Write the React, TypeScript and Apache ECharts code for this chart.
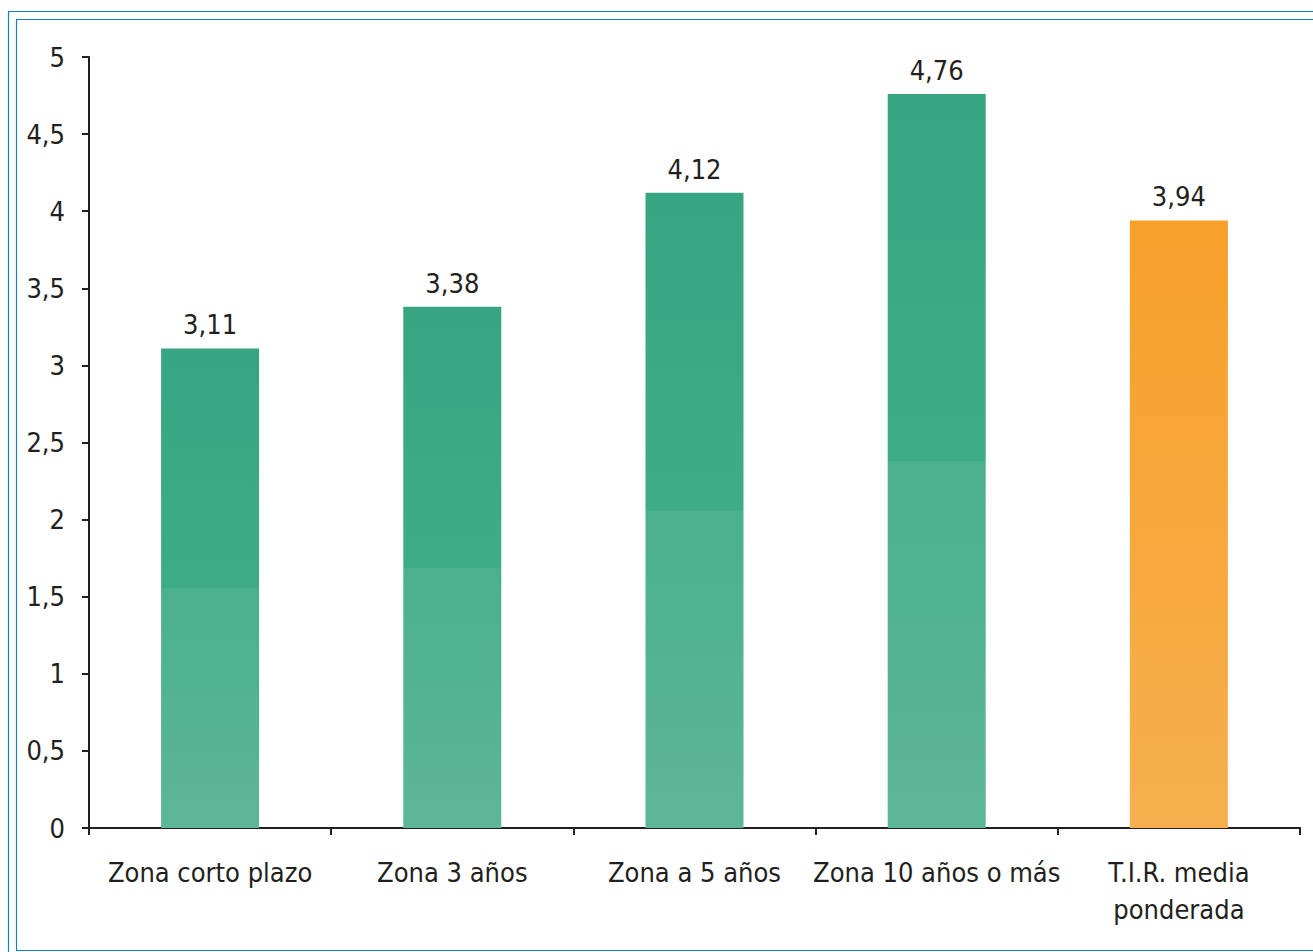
import React, { useEffect, useRef } from "react";
import * as echarts from "echarts";

const categories = ["Zona corto plazo", "Zona 3 años", "Zona a 5 años", "Zona 10 años o más", "T.I.R. media\nponderada"];
const values = [3.11, 3.38, 4.12, 4.76, 3.94];
const highlightIndex = 4;

const FONT = '"Liberation Sans Narrow", "DejaVu Sans Condensed", "Roboto Condensed", sans-serif';
const INK = "#231f20";

const greenGrad = new echarts.graphic.LinearGradient(0, 0, 0, 1, [
  { offset: 0, color: "#37a581" },
  { offset: 0.5, color: "#3fac88" },
  { offset: 0.501, color: "#4ab08d" },
  { offset: 1, color: "#5db698" },
]);
const orangeGrad = new echarts.graphic.LinearGradient(0, 0, 0, 1, [
  { offset: 0, color: "#f7a02a" },
  { offset: 1, color: "#f6b04f" },
]);

export default function App() {
  const ref = useRef<HTMLDivElement>(null);
  useEffect(() => {
    if (!ref.current) return;
    const chart = echarts.init(ref.current, undefined, { renderer: "svg" });
    chart.setOption({
      animation: false,
      backgroundColor: "#ffffff",
      textStyle: { fontFamily: FONT },
      grid: { left: 89, right: 13, top: 57, bottom: 124, containLabel: false },
      graphic: [
        {
          type: "rect",
          shape: { x: 8.5, y: 11.5, width: 1330, height: 960 },
          style: { fill: "none", stroke: "#1a7fc1", lineWidth: 1.2 },
          silent: true,
        },
        {
          type: "rect",
          shape: { x: 16.5, y: 19.5, width: 1320, height: 931 },
          style: { fill: "none", stroke: "#1a7fc1", lineWidth: 1.2 },
          silent: true,
        },
      ],
      xAxis: {
        type: "category",
        data: categories,
        axisLine: { lineStyle: { color: INK, width: 2 } },
        axisTick: { show: true, length: 7, lineStyle: { color: INK, width: 2 } },
        axisLabel: {
          color: INK,
          fontSize: 27,
          fontFamily: FONT,
          margin: 26,
          lineHeight: 37,
          interval: 0,
        },
      },
      yAxis: {
        type: "value",
        min: 0,
        max: 5,
        interval: 0.5,
        splitLine: { show: false },
        axisLine: { show: true, lineStyle: { color: INK, width: 2 } },
        axisTick: { show: true, length: 7, lineStyle: { color: INK, width: 2 } },
        axisLabel: {
          color: INK,
          fontSize: 27,
          fontFamily: FONT,
          margin: 24,
          formatter: (v: number) => String(v).replace(".", ","),
        },
      },
      series: [
        {
          type: "bar",
          barWidth: 98,
          data: values.map((v, i) => ({
            value: v,
            itemStyle: { color: i === highlightIndex ? orangeGrad : greenGrad },
          })),
          label: {
            show: true,
            position: "top",
            distance: 10,
            color: INK,
            fontSize: 27,
            fontFamily: FONT,
            formatter: (p: any) => p.value.toFixed(2).replace(".", ","),
          },
        },
      ],
    });
    return () => chart.dispose();
  }, []);
  return <div ref={ref} style={{ position: "fixed", left: 0, top: 0, width: 1313, height: 952 }} />;
}
